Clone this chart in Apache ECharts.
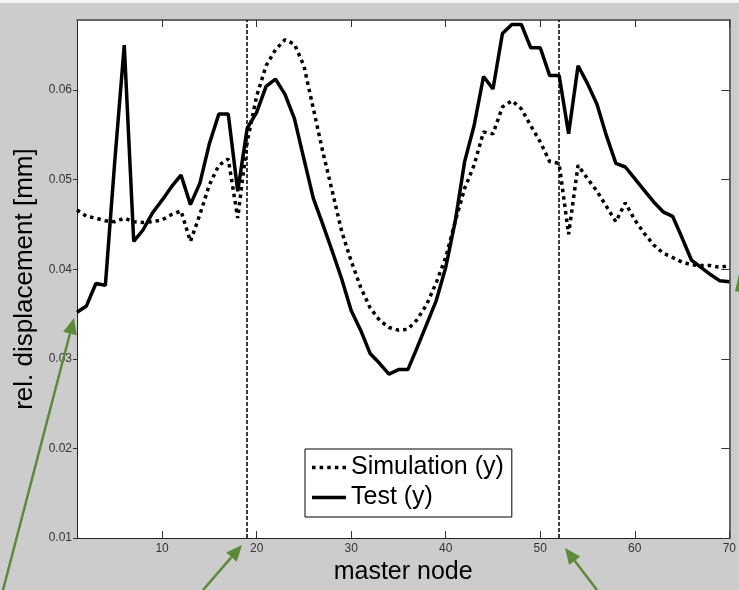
<!DOCTYPE html>
<html>
<head>
<meta charset="utf-8">
<script src="https://cdn.jsdelivr.net/npm/echarts@6/dist/echarts.min.js"></script>
<style>
  html, body { margin: 0; padding: 0; background: #cccccc; }
  #chart { width: 739px; height: 590px; }
</style>
</head>
<body>
<div id="chart"></div>
<script>
// master node numbers 1..70
const nodes = Array.from({ length: 70 }, (_, i) => i + 1);

// simulation, y direction [mm]
const simulation = [
  0.0466, 0.0459, 0.0457, 0.0454, 0.0453, 0.0457, 0.0453, 0.0452, 0.0453, 0.0455,
  0.0461, 0.0465, 0.0431, 0.0461, 0.0494, 0.0516, 0.0523, 0.0457, 0.0542, 0.0593,
  0.0627, 0.0645, 0.0656, 0.0651, 0.0627, 0.0579, 0.0531, 0.0487, 0.0442, 0.0409,
  0.0380, 0.0357, 0.0343, 0.0335, 0.0332, 0.0333, 0.0344, 0.0361, 0.0385, 0.0413,
  0.0453, 0.0490, 0.0516, 0.0553, 0.0551, 0.0581, 0.0588, 0.0579, 0.0560, 0.0542,
  0.0520, 0.0518, 0.0439, 0.0516, 0.0501, 0.0487, 0.0470, 0.0453, 0.0474, 0.0455,
  0.0440, 0.0427, 0.0418, 0.0413, 0.0408, 0.0405, 0.0404, 0.0404, 0.0402, 0.0404
];

// test, y direction [mm]
const test = [
  0.0352, 0.0359, 0.0384, 0.0382, 0.0521, 0.0650, 0.0431, 0.0444, 0.0463, 0.0477,
  0.0492, 0.0505, 0.0472, 0.0496, 0.0540, 0.0573, 0.0573, 0.0487, 0.0557, 0.0575,
  0.0604, 0.0612, 0.0595, 0.0568, 0.0523, 0.0479, 0.0450, 0.0420, 0.0389, 0.0354,
  0.0332, 0.0306, 0.0295, 0.0283, 0.0288, 0.0288, 0.0313, 0.0339, 0.0365, 0.0402,
  0.0453, 0.0520, 0.0560, 0.0615, 0.0601, 0.0663, 0.0673, 0.0673, 0.0647, 0.0647,
  0.0616, 0.0616, 0.0551, 0.0627, 0.0607, 0.0584, 0.0549, 0.0518, 0.0514, 0.0501,
  0.0488, 0.0475, 0.0464, 0.0459, 0.0435, 0.0410, 0.0402, 0.0394, 0.0387, 0.0386
];

// substructure boundaries (dashed vertical lines)
const boundaries = [19, 52];

const xTicks = [10, 20, 30, 40, 50, 60, 70];
const yTicks = [0.01, 0.02, 0.03, 0.04, 0.05, 0.06];

const chart = echarts.init(document.getElementById('chart'));

const green = '#5a8a3a';
function arrow(x1, y1, x2, y2) {
  const a = Math.atan2(y2 - y1, x2 - x1);
  const len = 16, hw = 7;
  const bx = x2 - len * Math.cos(a), by = y2 - len * Math.sin(a);
  const px = -Math.sin(a) * hw, py = Math.cos(a) * hw;
  return [
    { type: 'line', z: 100, shape: { x1: x1, y1: y1, x2: bx, y2: by },
      style: { stroke: green, lineWidth: 2.5 } },
    { type: 'polygon', z: 100, shape: { points: [[x2, y2], [bx + px, by + py], [bx - px, by - py]] },
      style: { fill: green } }
  ];
}

// legend samples: a solid bar and a row of square dots
const solidIcon = 'path://M0,0h34v3.5h-34z';
const dottedIcon = 'path://M0,0h3.5v3.5h-3.5z M7.5,0h3.5v3.5h-3.5z M15,0h3.5v3.5h-3.5z M22.5,0h3.5v3.5h-3.5z M30,0h3.5v3.5h-3.5z';

const font = 'Liberation Sans, Arial, sans-serif';

chart.setOption({
  animation: false,
  backgroundColor: '#cccccc',
  textStyle: { fontFamily: font },
  grid: { left: 77, right: 7, top: 20, bottom: 48, show: true, backgroundColor: '#fff', borderWidth: 0 },
  legend: {
    data: [
      { name: 'Simulation (y)', icon: dottedIcon },
      { name: 'Test (y)', icon: solidIcon }
    ],
    orient: 'vertical',
    left: 305, top: 449,
    backgroundColor: '#fff',
    borderColor: '#000', borderWidth: 1, borderRadius: 0,
    padding: [6, 8, 7, 7],
    itemWidth: 34, itemHeight: 25, itemGap: 5,
    itemStyle: { color: '#000' },
    textStyle: { fontSize: 25, color: '#000', fontFamily: font }
  },
  xAxis: [
    {
      type: 'value', min: 1, max: 70, position: 'bottom',
      name: 'master node', nameLocation: 'middle', nameGap: 20,
      nameTextStyle: { fontSize: 25, color: '#000', fontFamily: font },
      axisLine: { lineStyle: { color: '#222', width: 1 } },
      axisTick: { inside: true, length: 7, customValues: xTicks, lineStyle: { color: '#333' } },
      axisLabel: { customValues: xTicks, fontSize: 12, color: '#333', margin: 5 },
      splitLine: { show: false }
    },
    {
      type: 'value', min: 1, max: 70, position: 'top',
      axisLine: { lineStyle: { color: '#666', width: 2 } },
      axisTick: { inside: true, length: 7, customValues: xTicks, lineStyle: { color: '#333' } },
      axisLabel: { show: false },
      splitLine: { show: false }
    }
  ],
  yAxis: [
    {
      type: 'value', min: 0.01, max: 0.0678, position: 'left',
      name: 'rel. displacement [mm]', nameLocation: 'middle', nameGap: 37,
      nameTextStyle: { fontSize: 26, color: '#000', fontFamily: font },
      axisLine: { show: true, lineStyle: { color: '#222', width: 1 } },
      axisTick: { show: true, inside: false, length: 4, customValues: yTicks, lineStyle: { color: '#333' } },
      axisLabel: { customValues: yTicks, fontSize: 12, color: '#333', margin: 5,
        formatter: v => v.toFixed(2) },
      splitLine: { show: false }
    },
    {
      type: 'value', min: 0.01, max: 0.0678, position: 'right',
      axisLine: { show: true, lineStyle: { color: '#666', width: 2 } },
      axisTick: { show: true, inside: true, length: 8, customValues: yTicks, lineStyle: { color: '#333' } },
      axisLabel: { show: false },
      splitLine: { show: false }
    }
  ],
  series: [
    {
      name: 'Simulation (y)', type: 'line', symbol: 'none',
      xAxisIndex: 0, yAxisIndex: 0,
      data: nodes.map((n, i) => [n, simulation[i]]),
      lineStyle: { color: '#000', width: 3.5, type: [3.5, 4] },
      itemStyle: { color: '#000' }
    },
    {
      name: 'Test (y)', type: 'line', symbol: 'none',
      xAxisIndex: 0, yAxisIndex: 0,
      data: nodes.map((n, i) => [n, test[i]]),
      lineStyle: { color: '#000', width: 3.5, type: 'solid' },
      itemStyle: { color: '#000' },
      markLine: {
        silent: true, symbol: ['none', 'none'],
        label: { show: false },
        lineStyle: { color: '#000', width: 1.5, type: [4, 2] },
        data: boundaries.map(b => ({ xAxis: b }))
      }
    }
  ],
  graphic: [
    { type: 'rect', shape: { x: 0, y: 0, width: 739, height: 3 }, style: { fill: '#f4f4f4' } },
    ...arrow(3, 590, 74, 318),
    ...arrow(203, 590, 242, 545),
    ...arrow(597, 590, 565, 548),
    { type: 'polygon', z: 100, shape: { points: [[735, 291], [739, 274], [739, 292]] }, style: { fill: green } }
  ]
});
</script>
</body>
</html>
